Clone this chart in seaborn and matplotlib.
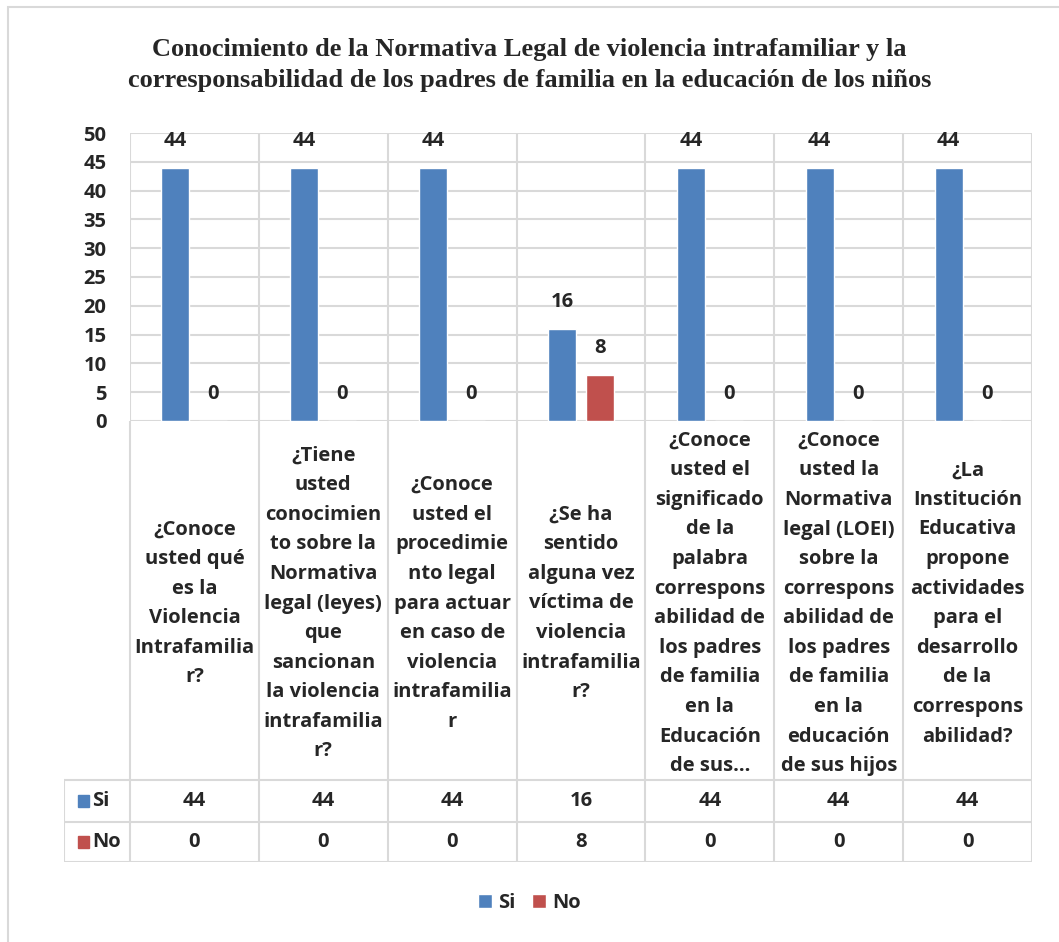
"""Conocimiento de la normativa legal - grouped bars with Excel-style data table."""

import matplotlib
matplotlib.use("Agg")
import matplotlib.pyplot as plt
import pandas as pd
import seaborn as sns
from matplotlib.lines import Line2D
from matplotlib.patches import Patch, Rectangle

TITLE = ("Conocimiento de la Normativa Legal de violencia intrafamiliar y la\n"
         "corresponsabilidad de los padres de familia en la educación de los niños")

categories = [
    "¿Conoce\nusted qué\nes la\nViolencia\nIntrafamilia\nr?",
    "¿Tiene\nusted\nconocimien\nto sobre la\nNormativa\nlegal (leyes)\nque\nsancionan\nla violencia\nintrafamilia\nr?",
    "¿Conoce\nusted el\nprocedimie\nnto legal\npara actuar\nen caso de\nviolencia\nintrafamilia\nr",
    "¿Se ha\nsentido\nalguna vez\nvíctima de\nviolencia\nintrafamilia\nr?",
    "¿Conoce\nusted el\nsignificado\nde la\npalabra\ncorrespons\nabilidad de\nlos padres\nde familia\nen la\nEducación\nde sus…",
    "¿Conoce\nusted la\nNormativa\nlegal (LOEI)\nsobre la\ncorrespons\nabilidad de\nlos padres\nde familia\nen la\neducación\nde sus hijos",
    "¿La\nInstitución\nEducativa\npropone\nactividades\npara el\ndesarrollo\nde la\ncorrespons\nabilidad?",
]
series_names = ["Si", "No"]
si_values = [44, 44, 44, 16, 44, 44, 44]
no_values = [0, 0, 0, 8, 0, 0, 0]
colors = ["#4F81BD", "#C0504D"]

W, H = 1059, 942
GRID = "#D9D9D9"
FONT = ["Open Sans", "DejaVu Sans"]
NUM_SIZE = 14.5


def fx(px):
    return px / W


def fy(py):
    return 1 - py / H


def main() -> None:
    sns.set_style("white")
    plt.rcParams["font.family"] = FONT
    plt.rcParams["font.weight"] = "bold"

    df = pd.DataFrame({
        "pregunta": categories * 2,
        "serie": [series_names[0]] * len(categories) + [series_names[1]] * len(categories),
        "valor": si_values + no_values,
    })

    fig = plt.figure(figsize=(W / 100, H / 100), dpi=100)

    # chart area border (runs off the right and bottom edge)
    fig.patches.append(Rectangle((fx(8), -0.02), 1.05, fy(7) + 0.02, transform=fig.transFigure,
                                 fill=False, edgecolor="#D9D9D9", linewidth=1.5))

    fig.text(0.5, fy(65), TITLE, ha="center", va="center", fontsize=19,
             family="Liberation Serif", fontweight="bold", linespacing=1.45)

    left, right, top, base = 130, 1032, 133, 421
    ax = fig.add_axes([fx(left), fy(base), fx(right - left), (base - top) / H])
    sns.barplot(data=df, x="pregunta", y="valor", hue="serie", hue_order=series_names,
                palette=colors, order=categories, width=0.59, gap=0.26,
                saturation=1, ax=ax, legend=False)
    ax.set_xlim(-0.5, len(categories) - 0.5)
    ax.set_ylim(0, 50)
    ax.set_yticks(range(0, 51, 5))
    ax.set_xticks([])
    ax.set_xlabel("")
    ax.set_ylabel("")
    ax.tick_params(axis="y", length=0, pad=17, labelsize=NUM_SIZE)
    for lbl in ax.get_yticklabels():
        lbl.set_fontweight("bold")
    for y in range(0, 51, 5):
        ax.axhline(y, color=GRID, linewidth=1.5, zorder=0)
    for i in range(len(categories) + 1):
        ax.axvline(i - 0.5, color=GRID, linewidth=1.5, zorder=0)
    for s in ax.spines.values():
        s.set_visible(False)
    for cont in ax.containers:
        ax.bar_label(cont, fmt="%d", padding=12, fontsize=NUM_SIZE, fontweight="bold")

    # data table under the plot
    col_px = (right - left) / len(categories)
    key_left = 64
    tab_bottom = 862
    tax = fig.add_axes([fx(key_left), fy(tab_bottom), fx(right - key_left), (tab_bottom - base) / H])
    tax.set_xlim(-0.5 - (left - key_left) / col_px, len(categories) - 0.5)
    tax.set_ylim(tab_bottom, base)
    tax.axis("off")
    x0 = -0.5 - (left - key_left) / col_px
    row_lines = [780, 822, 862]
    for i in range(len(categories) + 1):
        tax.add_line(Line2D([i - 0.5, i - 0.5], [base, tab_bottom], color=GRID, linewidth=1.5))
    for y in row_lines:
        tax.add_line(Line2D([x0, len(categories) - 0.5], [y, y], color=GRID, linewidth=1.5))
    tax.add_line(Line2D([x0, x0], [row_lines[0], tab_bottom], color=GRID, linewidth=1.5))

    for i, cat in enumerate(categories):
        tax.text(i, (base + row_lines[0]) / 2 + 3, cat, ha="center", va="center",
                 fontsize=14.5, fontweight="bold", linespacing=1.64)
    rows = [si_values, no_values]
    for r, (name, vals, col) in enumerate(zip(series_names, rows, colors)):
        yc = (row_lines[r] + row_lines[r + 1]) / 2
        for i, v in enumerate(vals):
            tax.text(i, yc, f"{v}", ha="center", va="center", fontsize=NUM_SIZE, fontweight="bold")
        tax.add_patch(Rectangle((x0 + 0.11, yc - 6), 0.085, 12, color=col, clip_on=False))
        tax.text(x0 + 0.22, yc, name, ha="left", va="center", fontsize=NUM_SIZE, fontweight="bold")

    handles = [Patch(facecolor=c, label=n) for n, c in zip(series_names, colors)]
    fig.legend(handles=handles, loc="center", bbox_to_anchor=(0.5, fy(903)), ncol=2,
               frameon=False, prop={"weight": "bold", "size": NUM_SIZE},
               handlelength=0.7, handleheight=0.7, handletextpad=0.3, columnspacing=0.8)

    fig.savefig("out.png", dpi=100)
    plt.close(fig)


if __name__ == "__main__":
    main()
